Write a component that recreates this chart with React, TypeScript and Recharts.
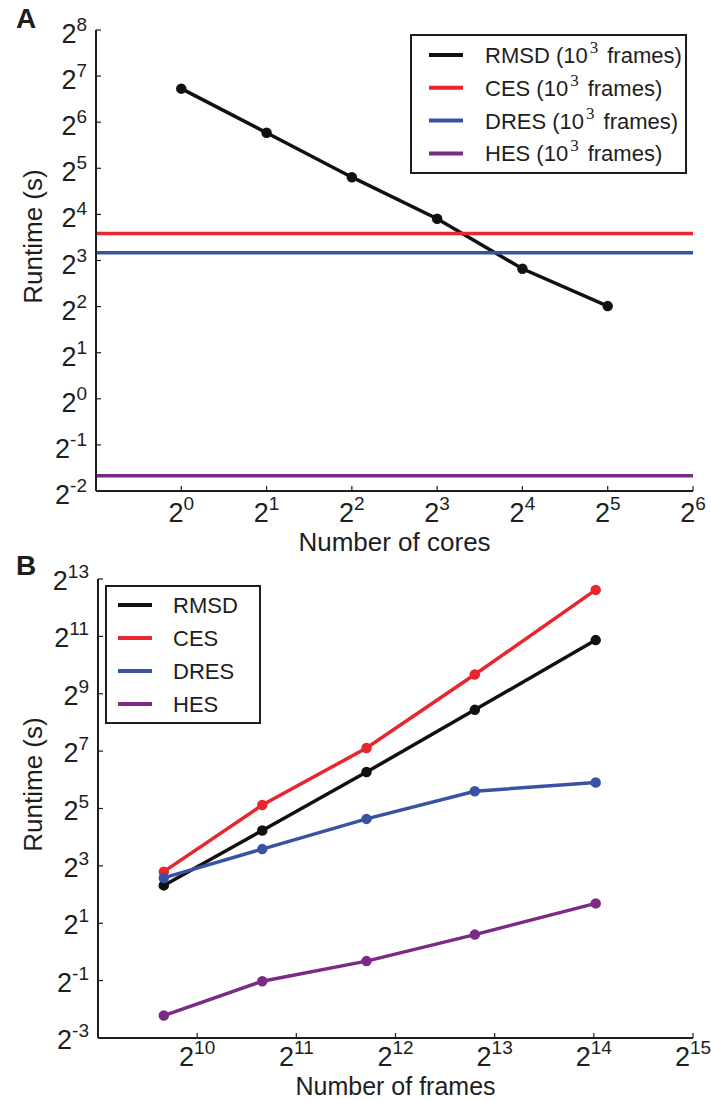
import { LineChart, Line, XAxis, YAxis, ReferenceLine, Label } from 'recharts';

const FONT = '"Liberation Sans", Arial, Helvetica, sans-serif';
const INK = '#1e1e1e';

// panel A: runtime vs number of cores, 10^3 frames
const cores = [1, 2, 4, 8, 16, 32];
const rmsdByCores = [106, 54.6, 28.0, 15.0, 7.06, 4.03];
const cesFixed = 12.0;
const dresFixed = 9.0;
const hesFixed = 0.314;
const coreTicks = [1, 2, 4, 8, 16, 32, 64];
const runtimeTicksA = [0.25, 0.5, 1, 2, 4, 8, 16, 32, 64, 128, 256];

// panel B: runtime vs number of frames
const frames = [811, 1614, 3345, 7130, 16600];
const rmsdByFrames = [4.99, 18.8, 77.2, 347, 1872];
const cesByFrames = [6.96, 34.8, 138, 815, 6294];
const dresByFrames = [5.98, 12.0, 24.9, 48.5, 60.1];
const hesByFrames = [0.215, 0.493, 0.801, 1.52, 3.23];
const frameTicks = [1024, 2048, 4096, 8192, 16384, 32768];
const runtimeTicksB = [0.125, 0.5, 2, 8, 32, 128, 512, 2048, 8192];

const seriesNames = ['RMSD', 'CES', 'DRES', 'HES'];
const seriesKeys = ['rmsd', 'ces', 'dres', 'hes'];
const seriesColors = ['#111111', '#e8262d', '#3a52a3', '#7b2a86'];

const dataA = cores.map((c, i) => ({ cores: c, rmsd: rmsdByCores[i] }));
const dataB = frames.map((f, i) => ({
  frames: f,
  rmsd: rmsdByFrames[i],
  ces: cesByFrames[i],
  dres: dresByFrames[i],
  hes: hesByFrames[i],
}));

const exp2 = (v: number) => Math.round(Math.log2(v));

function XPowTick(props: any) {
  const { x, y, payload, shift } = props;
  return (
    <text x={x} y={y + shift} textAnchor="middle" fontFamily={FONT} fontSize={27} fill={INK}>
      <tspan>2</tspan>
      <tspan dy={-12} fontSize={19}>{exp2(payload.value)}</tspan>
    </text>
  );
}

function YPowTick(props: any) {
  const { x, y, payload, shift } = props;
  return (
    <text x={x} y={y + shift} textAnchor="end" fontFamily={FONT} fontSize={27} fill={INK}>
      <tspan>2</tspan>
      <tspan dy={-12} fontSize={19}>{exp2(payload.value)}</tspan>
    </text>
  );
}

const axisLine = { stroke: INK, strokeWidth: 2 };
const tickLine = { stroke: INK, strokeWidth: 1.2 };

function xTitle(text: string, down: number, size: number) {
  return (p: any) => {
    const vb = p.viewBox;
    return (
      <text x={vb.x + vb.width / 2} y={vb.y + down} textAnchor="middle" fontFamily={FONT} fontSize={size} fill={INK}>
        {text}
      </text>
    );
  };
}

function yTitle(text: string) {
  return (p: any) => {
    const vb = p.viewBox;
    const cy = vb.y + vb.height / 2 - 24;
    return (
      <text x={42} y={cy} transform={`rotate(-90, 42, ${cy})`} textAnchor="middle" fontFamily={FONT} fontSize={26} fill={INK}>
        {text}
      </text>
    );
  };
}

function LegendBox(props: { left: number; top: number; width: number; height: number; first: number; step: number; lineX: number; textX: number; suffix: boolean }) {
  const { left, top, width, height, first, step, lineX, textX, suffix } = props;
  return (
    <svg style={{ position: 'absolute', left, top, overflow: 'visible' }} width={width} height={height}>
      <rect x={1} y={1} width={width - 2} height={height - 2} fill="#fff" stroke={INK} strokeWidth={2} />
      {seriesNames.map((name, i) => {
        const cy = first + i * step;
        return (
          <g key={name}>
            <line x1={lineX} x2={lineX + 34} y1={cy} y2={cy} stroke={seriesColors[i]} strokeWidth={4} />
            <text x={textX} y={cy + 8} fontFamily={FONT} fontSize={22} fill={INK}>
              {suffix ? (
                <>
                  <tspan>{name} (10</tspan>
                  <tspan dx={2} dy={-10} fontSize={17} fontFamily='"Liberation Serif", serif'>3</tspan>
                  <tspan dx={9} dy={10}>frames)</tspan>
                </>
              ) : (
                name
              )}
            </text>
          </g>
        );
      })}
    </svg>
  );
}

function PanelA() {
  return (
    <LineChart width={711} height={560} data={dataA} margin={{ top: 30, right: 18, bottom: 0, left: 0 }}>
      <XAxis dataKey="cores" type="number" scale="log" domain={[0.5, 64]} ticks={coreTicks} interval={0} allowDataOverflow
        height={69} tickSize={-5} tickMargin={5} tick={<XPowTick shift={31} />} axisLine={axisLine} tickLine={tickLine}>
        <Label content={xTitle('Number of cores', 60, 26)} />
      </XAxis>
      <XAxis xAxisId="top" orientation="top" mirror dataKey="cores" type="number" scale="log" domain={[0.5, 64]} ticks={coreTicks}
        interval={0} allowDataOverflow height={0} tick={false} tickSize={5} axisLine={axisLine} tickLine={tickLine} />
      <YAxis type="number" scale="log" domain={[0.25, 256]} ticks={runtimeTicksA} interval={0} allowDataOverflow width={96}
        tickSize={-5} tickMargin={14} tick={<YPowTick shift={13} />} axisLine={axisLine} tickLine={tickLine}>
        <Label content={yTitle('Runtime (s)')} />
      </YAxis>
      <YAxis yAxisId="right" orientation="right" mirror type="number" scale="log" domain={[0.25, 256]} ticks={runtimeTicksA}
        interval={0} allowDataOverflow width={0} tick={false} tickSize={5} axisLine={axisLine} tickLine={tickLine} />
      <Line dataKey="rmsd" stroke={seriesColors[0]} strokeWidth={3.5} dot={{ r: 3.5, fill: seriesColors[0], stroke: seriesColors[0] }} isAnimationActive={false} />
      <ReferenceLine y={cesFixed} stroke={seriesColors[1]} strokeWidth={3.5} />
      <ReferenceLine y={dresFixed} stroke={seriesColors[2]} strokeWidth={3.5} />
      <ReferenceLine y={hesFixed} stroke={seriesColors[3]} strokeWidth={3.5} />
    </LineChart>
  );
}

function PanelB() {
  return (
    <LineChart width={711} height={541} data={dataB} margin={{ top: 19, right: 18, bottom: 0, left: 0 }}>
      <XAxis dataKey="frames" type="number" scale="log" domain={[512, 32768]} ticks={frameTicks} interval={0} allowDataOverflow
        height={63} tickSize={-5} tickMargin={5} tick={<XPowTick shift={28} />} axisLine={axisLine} tickLine={tickLine}>
        <Label content={xTitle('Number of frames', 57, 25)} />
      </XAxis>
      <XAxis xAxisId="top" orientation="top" mirror dataKey="frames" type="number" scale="log" domain={[512, 32768]} ticks={frameTicks}
        interval={0} allowDataOverflow height={0} tick={false} tickSize={5} axisLine={axisLine} tickLine={tickLine} />
      <YAxis type="number" scale="log" domain={[0.125, 8192]} ticks={runtimeTicksB} interval={0} allowDataOverflow width={98}
        tickSize={-5} tickMargin={14} tick={<YPowTick shift={11} />} axisLine={axisLine} tickLine={tickLine}>
        <Label content={yTitle('Runtime (s)')} />
      </YAxis>
      <YAxis yAxisId="right" orientation="right" mirror type="number" scale="log" domain={[0.125, 8192]} ticks={runtimeTicksB}
        interval={0} allowDataOverflow width={0} tick={false} tickSize={5} axisLine={axisLine} tickLine={tickLine} />
      {seriesKeys.map((k, i) => (
        <Line key={k} dataKey={k} stroke={seriesColors[i]} strokeWidth={3.5}
          dot={{ r: 3.5, fill: seriesColors[i], stroke: seriesColors[i] }} isAnimationActive={false} />
      ))}
    </LineChart>
  );
}

export default function App() {
  return (
    <div style={{ position: 'absolute', left: 0, top: 0, width: 711, height: 1101, background: '#fff', fontFamily: FONT }}>
      <div style={{ position: 'absolute', left: 0, top: 0 }}>
        <PanelA />
      </div>
      <div style={{ position: 'absolute', left: 0, top: 560 }}>
        <PanelB />
      </div>
      <div style={{ position: 'absolute', left: 16, top: 2, fontSize: 28, fontWeight: 'bold', color: INK, lineHeight: '34px' }}>A</div>
      <div style={{ position: 'absolute', left: 16, top: 549, fontSize: 28, fontWeight: 'bold', color: INK, lineHeight: '34px' }}>B</div>
      <LegendBox left={410} top={34} width={277} height={140} first={21} step={32.8} lineX={19} textX={75} suffix />
      <LegendBox left={105} top={585} width={156} height={139} first={20} step={33} lineX={13} textX={68} suffix={false} />
    </div>
  );
}
